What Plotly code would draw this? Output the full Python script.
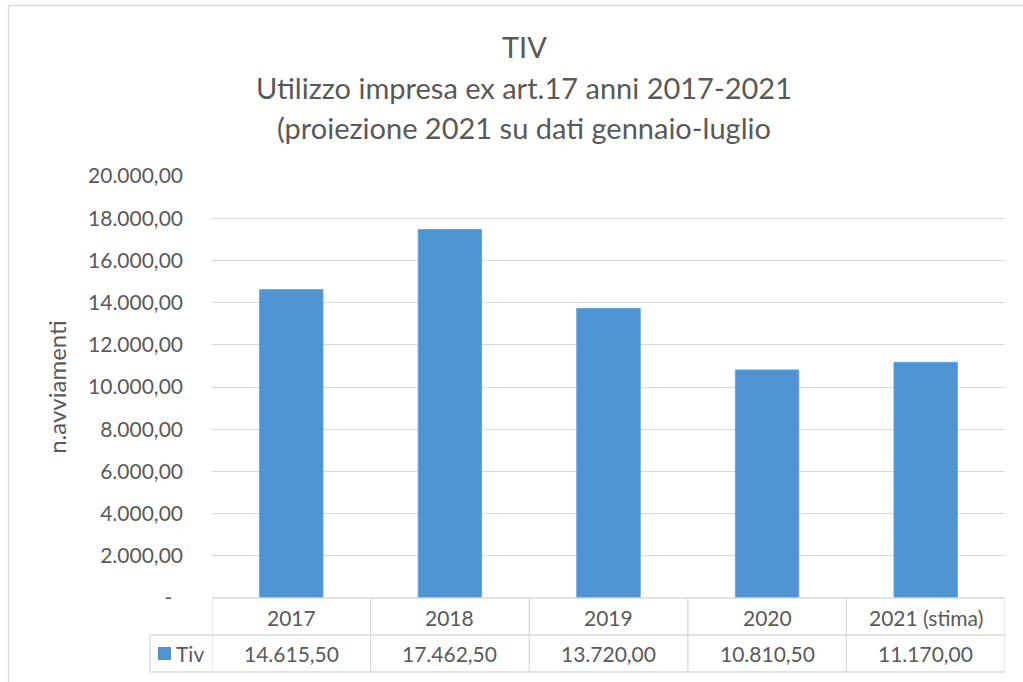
import plotly.graph_objects as go

# ---- data ----
categories = ["2017", "2018", "2019", "2020", "2021 (stima)"]
values = [14615.50, 17462.50, 13720.00, 10810.50, 11170.00]
value_labels = ["14.615,50", "17.462,50", "13.720,00", "10.810,50", "11.170,00"]
series_name = "Tiv"
y_tickvals = [0, 2000, 4000, 6000, 8000, 10000, 12000, 14000, 16000, 18000, 20000]
y_ticktext = ["-\u00a0\u00a0", "2.000,00", "4.000,00", "6.000,00", "8.000,00", "10.000,00",
              "12.000,00", "14.000,00", "16.000,00", "18.000,00", "20.000,00"]
title_lines = ["TIV", "Utilizzo impresa ex art.17 anni 2017-2021",
               "(proiezione 2021 su dati gennaio-luglio"]
y_title = "n.avviamenti"

# ---- layout geometry (pixels) ----
WIDTH, HEIGHT = 1023, 682
L, R, T, B = 212, 1005, 176, 598
PW, PH = R - L, B - T

def px(x):
    return (x - L) / PW

def py(y):
    return (B - y) / PH

FONT = "Lato"
GREY = "#595959"
LINE = "#d9d9d9"
BAR = "#4e94d2"

fig = go.Figure()
fig.add_trace(go.Bar(x=list(range(len(categories))), y=values, name=series_name, width=0.4,
                     marker=dict(color=BAR, line=dict(color="#6aa6dc", width=1)),
                     showlegend=False))

annotations = []
title_centers = [46, 87, 128]
for line, yc in zip(title_lines, title_centers):
    annotations.append(dict(text=line, xref="paper", yref="paper", x=px(524), y=py(yc),
                            xanchor="center", yanchor="middle", showarrow=False,
                            font=dict(family=FONT, size=29, color=GREY)))

for i, (cat, lab) in enumerate(zip(categories, value_labels)):
    annotations.append(dict(text=cat, xref="x", yref="paper", x=i, y=py(617),
                            xanchor="center", yanchor="middle", showarrow=False,
                            font=dict(family=FONT, size=21, color=GREY)))
    annotations.append(dict(text=lab, xref="x", yref="paper", x=i, y=py(653),
                            xanchor="center", yanchor="middle", showarrow=False,
                            font=dict(family=FONT, size=21, color=GREY)))

annotations.append(dict(text=series_name, xref="paper", yref="paper", x=px(174), y=py(653),
                        xanchor="left", yanchor="middle", showarrow=False,
                        font=dict(family=FONT, size=21, color=GREY)))

shapes = []
lw = 1.3
# outer chart border (top and left)
shapes.append(dict(type="line", xref="paper", yref="paper", x0=px(8.5), x1=px(1030),
                   y0=py(5.5), y1=py(5.5), line=dict(color=LINE, width=1.5)))
shapes.append(dict(type="line", xref="paper", yref="paper", x0=px(8.5), x1=px(8.5),
                   y0=py(5.5), y1=py(690), line=dict(color=LINE, width=1.5)))
# table horizontal lines
shapes.append(dict(type="line", xref="paper", yref="paper", x0=0, x1=1,
                   y0=0, y1=0, line=dict(color=LINE, width=lw)))
for yy in (635, 672):
    shapes.append(dict(type="line", xref="paper", yref="paper", x0=px(150), x1=1,
                       y0=py(yy), y1=py(yy), line=dict(color=LINE, width=lw)))
shapes.append(dict(type="line", xref="paper", yref="paper", x0=px(150), x1=px(150),
                   y0=py(635), y1=py(672), line=dict(color=LINE, width=lw)))
for i in range(len(categories) + 1):
    shapes.append(dict(type="line", xref="x", yref="paper", x0=i - 0.5, x1=i - 0.5,
                       y0=0, y1=py(672), line=dict(color=LINE, width=lw)))
# legend swatch
shapes.append(dict(type="rect", xref="paper", yref="paper", x0=px(158), x1=px(171),
                   y0=py(647), y1=py(660), fillcolor=BAR, line=dict(width=0)))

fig.update_layout(
    width=WIDTH, height=HEIGHT,
    margin=dict(l=L, r=WIDTH - R, t=T, b=HEIGHT - B, autoexpand=False),
    paper_bgcolor="white", plot_bgcolor="white",
    font=dict(family=FONT, color=GREY),
    annotations=annotations,
    shapes=shapes,
    xaxis=dict(range=[-0.5, len(categories) - 0.5], showticklabels=False,
               showgrid=False, zeroline=False, showline=False, ticks=""),
    yaxis=dict(range=[0, 20000], tickvals=y_tickvals, ticktext=y_ticktext,
               showgrid=True, gridcolor=LINE, gridwidth=1.3, zeroline=False,
               showline=False, ticks="", ticklabelstandoff=28,
               tickfont=dict(family=FONT, size=21, color=GREY),
               title=dict(text=y_title, font=dict(family=FONT, size=24, color=GREY),
                          standoff=14)),
)

fig.write_html("out.html", config={"displayModeBar": False},
               post_script="document.body.style.margin='0';document.body.style.overflow='hidden';")
